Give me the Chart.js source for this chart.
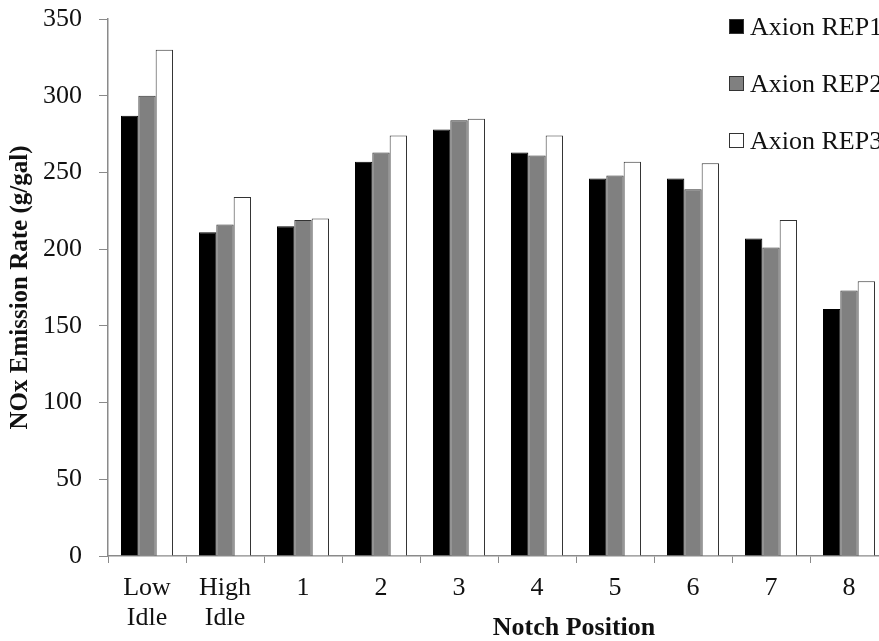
<!DOCTYPE html>
<html>
<head>
<meta charset="utf-8">
<script src="https://cdn.jsdelivr.net/npm/chart.js@4.4.1/dist/chart.umd.min.js"></script>
<style>
  html, body { margin: 0; padding: 0; background: #fff; overflow: hidden; }
  #wrap { width: 879px; height: 641px; overflow: hidden; }
  canvas { display: block; }
</style>
</head>
<body>
<div id="wrap"><canvas id="chart" width="900" height="641"></canvas></div>
<script>
const categories = [["Low", "Idle"], ["High", "Idle"], "1", "2", "3", "4", "5", "6", "7", "8"];
const seriesNames = ["Axion REP1", "Axion REP2", "Axion REP3"];
const rep1 = [287, 211, 215, 257, 278, 263, 246, 246, 207, 161];
const rep2 = [300, 216, 219, 263, 284, 261, 248, 239, 201, 173];
const rep3 = [330, 234, 220, 274, 285, 274, 257, 256, 219, 179];
const yTicks = [0, 50, 100, 150, 200, 250, 300, 350];

const serif = "'Liberation Serif', 'Times New Roman', serif";
const axisGray = "#8a8a8a";

// legend on the right and x title, drawn like the original (off-centre)
const extras = {
  id: "extras",
  afterDraw(chart) {
    const ctx = chart.ctx;
    ctx.save();
    ctx.font = "26px " + serif;
    ctx.textBaseline = "middle";
    chart.data.datasets.forEach((ds, i) => {
      const y = 27 + i * 57;
      ctx.fillStyle = ds.backgroundColor;
      ctx.fillRect(729, y - 8, 15, 15);
      ctx.strokeStyle = "#333";
      ctx.lineWidth = 1;
      ctx.strokeRect(729.5, y - 7.5, 14, 14);
      ctx.fillStyle = "#111";
      ctx.fillText(ds.label, 750, y + 1);
    });
    ctx.font = "bold 26px " + serif;
    ctx.textAlign = "center";
    ctx.fillText("Notch Position", 574, 628);
    ctx.restore();
  }
};

new Chart(document.getElementById("chart"), {
  type: "bar",
  data: {
    labels: categories,
    datasets: [
      { label: seriesNames[0], data: rep1, backgroundColor: "#000000", borderColor: "#000", borderWidth: 1 },
      { label: seriesNames[1], data: rep2, backgroundColor: "#808080", borderColor: "#333", borderWidth: 1 },
      { label: seriesNames[2], data: rep3, backgroundColor: "#ffffff", borderColor: "#333", borderWidth: 1 }
    ]
  },
  options: {
    responsive: false,
    animation: false,
    devicePixelRatio: 1,
    categoryPercentage: 0.667,
    barPercentage: 1.0,
    layout: { padding: { left: 0, right: 12, top: 19, bottom: 0 } },
    plugins: {
      legend: { display: false },
      tooltip: { enabled: false }
    },
    scales: {
      x: {
        grid: { display: true, drawOnChartArea: false, tickLength: 7, color: axisGray },
        border: { color: axisGray, width: 1.5 },
        ticks: {
          color: "#111",
          font: { family: serif, size: 26, lineHeight: 1.15 },
          padding: 10,
          maxRotation: 0,
          autoSkip: false
        },
        afterFit(scale) { scale.height = 85; }
      },
      y: {
        min: 0,
        max: 350,
        afterBuildTicks(scale) { scale.ticks = yTicks.map(v => ({ value: v })); },
        grid: { display: true, drawOnChartArea: false, tickLength: 9, color: axisGray },
        border: { color: axisGray, width: 1.5 },
        ticks: {
          color: "#111",
          font: { family: serif, size: 26 },
          padding: 17
        },
        title: {
          display: true,
          text: "NOx Emission Rate (g/gal)",
          color: "#111",
          font: { family: serif, size: 25, weight: "bold" },
          padding: { top: 6, bottom: 0 }
        },
        afterFit(scale) {
          scale.width = 108;
          scale.paddingTop = 0;
          scale.paddingBottom = 0;
        }
      }
    }
  },
  plugins: [extras]
});
</script>
</body>
</html>
